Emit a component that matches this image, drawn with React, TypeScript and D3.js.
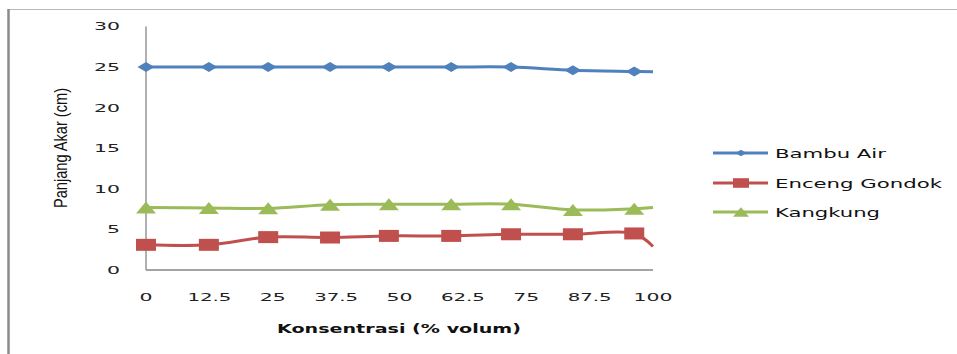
import React from "react";
import * as d3 from "d3";

const xTickLabels = ["0", "12.5", "25", "37.5", "50", "62.5", "75", "87.5", "100"];
const xTickValues = [0, 12.5, 25, 37.5, 50, 62.5, 75, 87.5, 100];
const yTickValues = [0, 5, 10, 15, 20, 25, 30];
// x position (in axis units) of each data point; the last point has no marker
const pointX = [0, 12.4, 24.1, 36.3, 47.9, 60.2, 72.0, 84.2, 96.3, 100];
const bambuAir = [25, 25, 25, 25, 25, 25, 25, 24.6, 24.45, 24.4];
const encengGondok = [3.1, 3.1, 4.05, 4.0, 4.2, 4.2, 4.4, 4.4, 4.5, 2.9];
const kangkung = [7.7, 7.65, 7.6, 8.05, 8.1, 8.1, 8.1, 7.4, 7.55, 7.7];
const seriesNames = ["Bambu Air", "Enceng Gondok", "Kangkung"];
const seriesColors = ["#4F81BD", "#C0504D", "#9BBB59"];
const seriesShapes = ["diamond", "square", "triangle"];
const markerCount = 9;

const W = 957;
const H = 354;

function digitWidth(s: string) {
  let w = 0;
  for (const c of s) w += c === "." ? 5 : 13;
  return w;
}

function Marker({ shape, x, y, color, scale = 1 }: any) {
  if (shape === "diamond") {
    const hw = 8.5 * scale, hh = 5 * scale;
    return <path d={`M${x - hw},${y}L${x},${y - hh}L${x + hw},${y}L${x},${y + hh}Z`} fill={color} />;
  }
  if (shape === "square") {
    const hw = 10 * scale, hh = 6 * scale;
    return <rect x={x - hw} y={y - hh} width={2 * hw} height={2 * hh} fill={color} />;
  }
  const hw = 10 * scale, hh = 6 * scale;
  return <path d={`M${x - hw},${y + hh}L${x},${y - hh}L${x + hw},${y + hh}Z`} fill={color} />;
}

export default function App() {
  const x = d3.scaleLinear().domain([0, 100]).range([146, 653]);
  const y = d3.scaleLinear().domain([0, 30]).range([270, 26.4]);
  const line = d3
    .line<number>()
    .x((_, i) => x(pointX[i]))
    .y((d) => y(d))
    .curve(d3.curveCatmullRom.alpha(0.5));
  const allSeries = [bambuAir, encengGondok, kangkung];
  const legendWidths = [111, 167, 105];
  const legendY = [153, 183, 212];

  return (
    <svg
      width={W}
      height={H}
      style={{ position: "absolute", left: 0, top: 0, background: "#fff" }}
      fontFamily="'DejaVu Sans', sans-serif"
    >
      <rect x={0} y={0} width={W} height={H} fill="#fff" />
      {/* frame */}
      <line x1={8} x2={W} y1={9.5} y2={9.5} stroke="#b8b8b8" strokeWidth={1} />
      <line x1={8.5} x2={8.5} y1={9} y2={H} stroke="#8a8a8a" strokeWidth={2.5} />

      {/* axes */}
      <line x1={x(0)} x2={x(0)} y1={y(30)} y2={y(0)} stroke="#868686" strokeWidth={1.3} />
      <line x1={x(0)} x2={x(100)} y1={y(0)} y2={y(0)} stroke="#868686" strokeWidth={1.3} />

      {yTickValues.map((v) => (
        <text
          key={v}
          x={120}
          y={y(v) + 4}
          fontSize={11}
          fill="#222"
          textAnchor="end"
          textLength={digitWidth(String(v))}
          lengthAdjust="spacingAndGlyphs"
        >
          {v}
        </text>
      ))}
      {xTickValues.map((v, i) => (
        <text
          key={v}
          x={x(v)}
          y={301}
          fontSize={11}
          fill="#222"
          textAnchor="middle"
          textLength={digitWidth(xTickLabels[i])}
          lengthAdjust="spacingAndGlyphs"
        >
          {xTickLabels[i]}
        </text>
      ))}

      {/* axis titles */}
      <text
        x={399}
        y={333}
        fontSize={13}
        fontWeight="bold"
        fill="#111"
        textAnchor="middle"
        textLength={244}
        lengthAdjust="spacingAndGlyphs"
      >
        Konsentrasi (% volum)
      </text>
      <text
        transform={`translate(67,148) rotate(-90)`}
        fontSize={18}
        fill="#111"
        textAnchor="middle"
        fontFamily="'Liberation Sans', sans-serif"
        textLength={120}
        lengthAdjust="spacingAndGlyphs"
      >
        Panjang Akar (cm)
      </text>

      {/* series */}
      {allSeries.map((s, si) => (
        <g key={si}>
          <path d={line(s) || ""} fill="none" stroke={seriesColors[si]} strokeWidth={3} />
          {s.slice(0, markerCount).map((v, i) => (
            <Marker key={i} shape={seriesShapes[si]} x={x(pointX[i])} y={y(v)} color={seriesColors[si]} />
          ))}
        </g>
      ))}

      {/* legend */}
      {seriesNames.map((n, i) => (
        <g key={n}>
          <line x1={713} x2={768} y1={legendY[i]} y2={legendY[i]} stroke={seriesColors[i]} strokeWidth={3} />
          <Marker shape={seriesShapes[i]} x={741} y={legendY[i]} color={seriesColors[i]} scale={i === 0 ? 0.65 : 0.8} />
          <text
            x={775}
            y={legendY[i] + 5}
            fontSize={13}
            fill="#111"
            textLength={legendWidths[i]}
            lengthAdjust="spacingAndGlyphs"
          >
            {n}
          </text>
        </g>
      ))}
    </svg>
  );
}
